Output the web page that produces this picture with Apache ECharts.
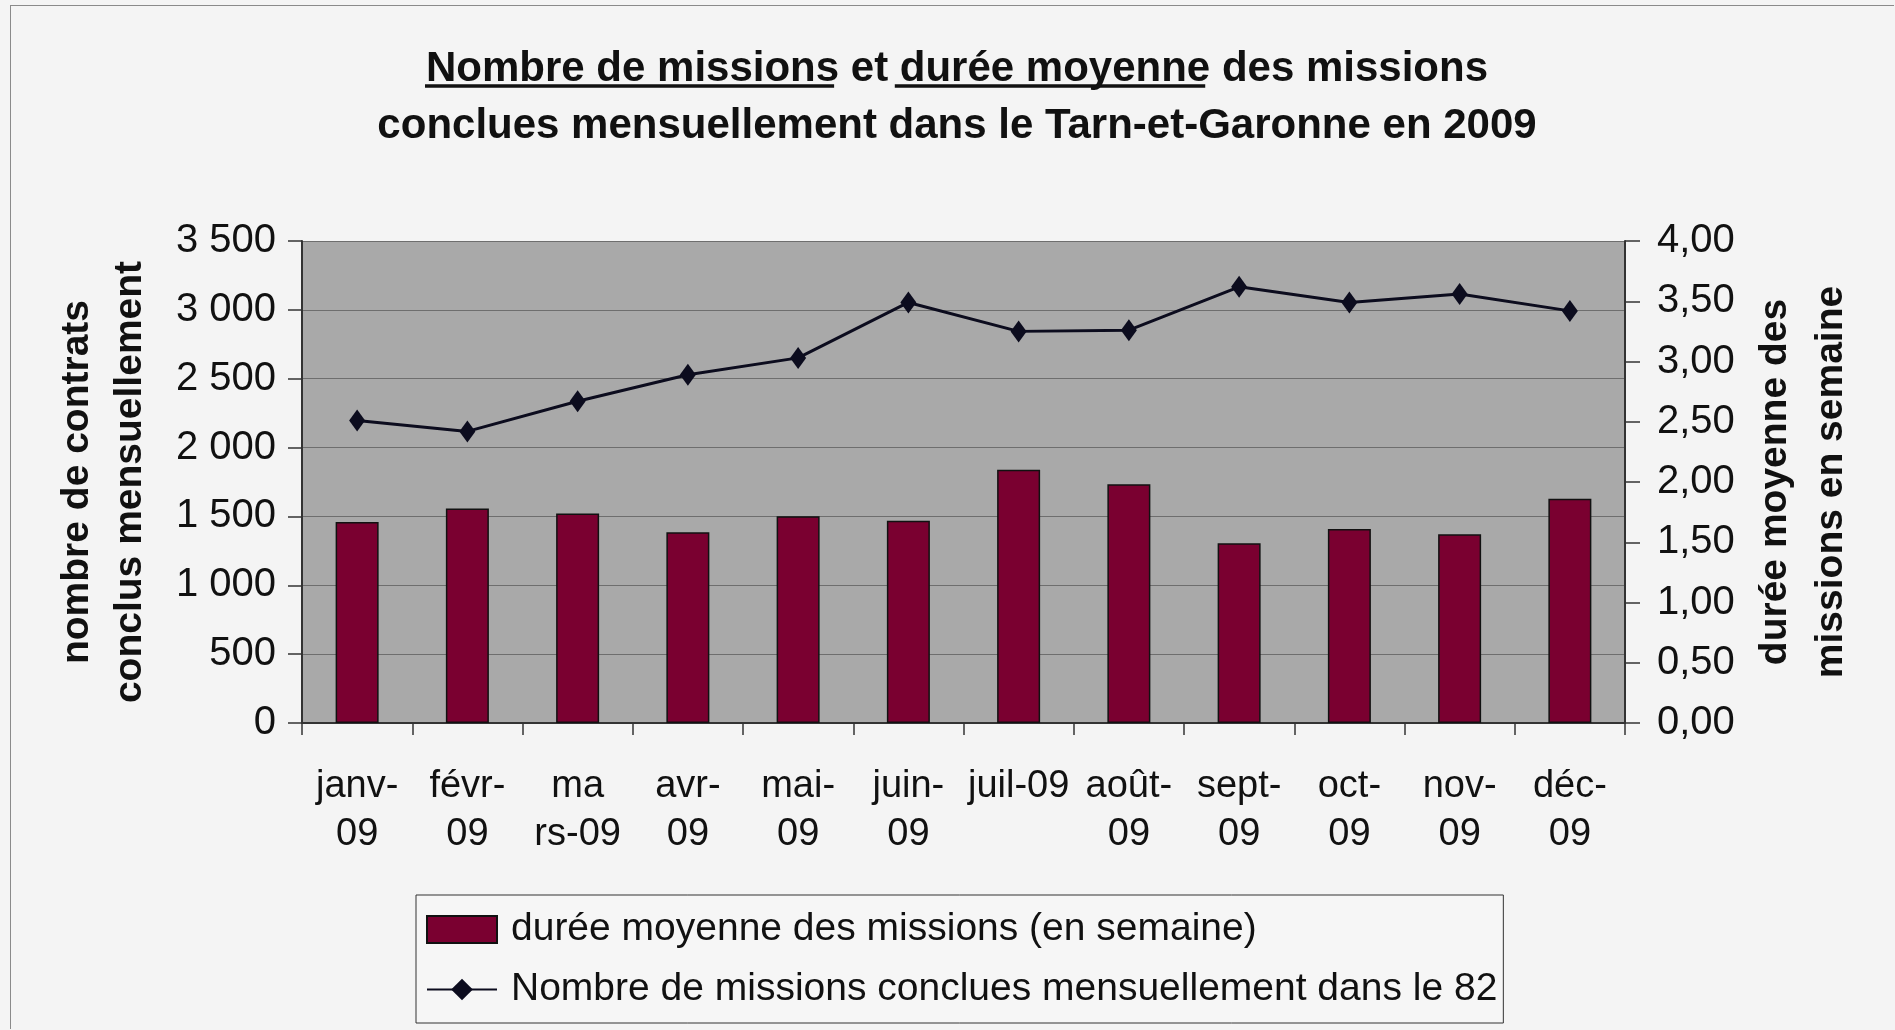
<!DOCTYPE html>
<html>
<head>
<meta charset="utf-8">
<title>Missions Tarn-et-Garonne 2009</title>
<script src="https://cdn.jsdelivr.net/npm/echarts@6/dist/echarts.min.js"></script>
<style>
  html, body { margin: 0; padding: 0; background: #f4f4f4; }
  #chart { position: absolute; left: 10px; top: 5px; width: 1884px; height: 1024px;
           border: 1px solid #8a8a8a; border-right: none; border-bottom: none; box-sizing: border-box; }
</style>
</head>
<body>
<div id="chart"></div>
<script>
// mois (libellés tels qu'ils apparaissent, avec leurs coupures)
var categories = ['janv-\n09', 'févr-\n09', 'ma\nrs-09', 'avr-\n09', 'mai-\n09', 'juin-\n09',
  'juil-09', 'août-\n09', 'sept-\n09', 'oct-\n09', 'nov-\n09', 'déc-\n09'];

// barres, axe de gauche
var barValues = [1460, 1558, 1521, 1386, 1501, 1468, 1839, 1733, 1306, 1409, 1370, 1628];

// ligne, axe de droite
var lineValues = [2.51, 2.42, 2.67, 2.89, 3.03, 3.49, 3.25, 3.26, 3.62, 3.49, 3.56, 3.42];

var barName = 'durée moyenne des missions (en semaine)';
var lineName = 'Nombre de missions conclues mensuellement dans le 82';

var leftTicks = { min: 0, max: 3500, interval: 500 };
var rightTicks = { min: 0, max: 4, interval: 0.5 };

var FONT = '"Liberation Sans", Arial, sans-serif';

var chart = echarts.init(document.getElementById('chart'));

function fmtThousands(v) {
  return String(v).replace(/\B(?=(\d{3})+(?!\d))/g, ' ');
}

// position des soulignements du titre (mesure du texte)
var titleSize = 42;
var titleCx = 941; // centre du titre dans le conteneur
var ctx = document.createElement('canvas').getContext('2d');
ctx.font = 'bold ' + titleSize + 'px ' + FONT;
var segs = ['Nombre de missions', ' et ', 'durée moyenne', ' des missions'];
var widths = segs.map(function (s) { return ctx.measureText(s).width; });
var total = widths.reduce(function (a, b) { return a + b; }, 0);
var x0 = titleCx - total / 2;
var ulY = 80;
var underlines = [
  { x1: x0 + 4, x2: x0 + widths[0] },
  { x1: x0 + widths[0] + widths[1], x2: x0 + widths[0] + widths[1] + widths[2] }
];

chart.setOption({
  backgroundColor: '#f4f4f4',
  animation: false,
  textStyle: { fontFamily: FONT },
  title: {
    text: segs.join('') + '\nconclues mensuellement dans le Tarn-et-Garonne en 2009',
    left: titleCx,
    textAlign: 'center',
    top: 30,
    textStyle: { fontSize: titleSize, fontWeight: 'bold', color: '#111', lineHeight: 57 }
  },
  graphic: underlines.map(function (u) {
    return {
      type: 'line',
      shape: { x1: u.x1, y1: ulY, x2: u.x2, y2: ulY },
      style: { stroke: '#111', lineWidth: 3.5 }
    };
  }),
  legend: {
    orient: 'vertical',
    left: 405,
    top: 889,
    padding: [15, 6, 14, 10],
    itemGap: 21,
    itemWidth: 70,
    itemHeight: 27,
    backgroundColor: '#f6f6f6',
    borderColor: '#333',
    borderWidth: 1,
    borderRadius: 0,
    textStyle: { fontSize: 39, color: '#111', padding: [0, 0, 0, 9] },
    data: [
      { name: barName, icon: 'rect' },
      { name: lineName }
    ]
  },
  grid: {
    left: 291,
    right: 269,
    top: 235,
    bottom: 306,
    show: true,
    backgroundColor: '#a9a9a9',
    borderWidth: 0
  },
  xAxis: {
    type: 'category',
    data: categories,
    axisLine: { lineStyle: { color: '#333', width: 2 } },
    axisTick: { show: true, length: 12, lineStyle: { color: '#333', width: 1.5 } },
    axisLabel: { fontSize: 38, color: '#111', lineHeight: 48, margin: 40, interval: 0 }
  },
  yAxis: [
    {
      type: 'value',
      min: leftTicks.min,
      max: leftTicks.max,
      interval: leftTicks.interval,
      position: 'left',
      name: 'nombre de contrats\nconclus mensuellement',
      nameLocation: 'middle',
      nameRotate: 90,
      nameGap: 145,
      nameTextStyle: { fontSize: 39, fontWeight: 'bold', color: '#111', lineHeight: 53 },
      axisLine: { show: true, lineStyle: { color: '#333', width: 2 } },
      axisTick: { show: true, length: 14, lineStyle: { color: '#333', width: 1.5 } },
      axisLabel: { fontSize: 40, color: '#111', margin: 26, formatter: fmtThousands },
      splitLine: { show: true, lineStyle: { color: '#6e6e6e', width: 1.2 } }
    },
    {
      type: 'value',
      min: rightTicks.min,
      max: rightTicks.max,
      interval: rightTicks.interval,
      position: 'right',
      name: 'durée moyenne des\nmissions en semaine',
      nameLocation: 'middle',
      nameRotate: 90,
      nameGap: 122,
      nameTextStyle: { fontSize: 39, fontWeight: 'bold', color: '#111', lineHeight: 56 },
      axisLine: { show: true, lineStyle: { color: '#333', width: 2 } },
      axisTick: { show: true, length: 15, lineStyle: { color: '#333', width: 1.5 } },
      axisLabel: {
        fontSize: 40, color: '#111', margin: 32,
        formatter: function (v) { return v.toFixed(2).replace('.', ','); }
      },
      splitLine: { show: false }
    }
  ],
  series: [
    {
      name: barName,
      type: 'bar',
      yAxisIndex: 0,
      data: barValues,
      barWidth: '39%',
      itemStyle: { color: '#7a0030', borderColor: '#111', borderWidth: 1.5 }
    },
    {
      name: lineName,
      type: 'line',
      yAxisIndex: 1,
      data: lineValues,
      symbol: 'diamond',
      symbolSize: [16, 22],
      itemStyle: { color: '#0c0c1e' },
      lineStyle: { color: '#0c0c1e', width: 3 }
    }
  ]
});
</script>
</body>
</html>
